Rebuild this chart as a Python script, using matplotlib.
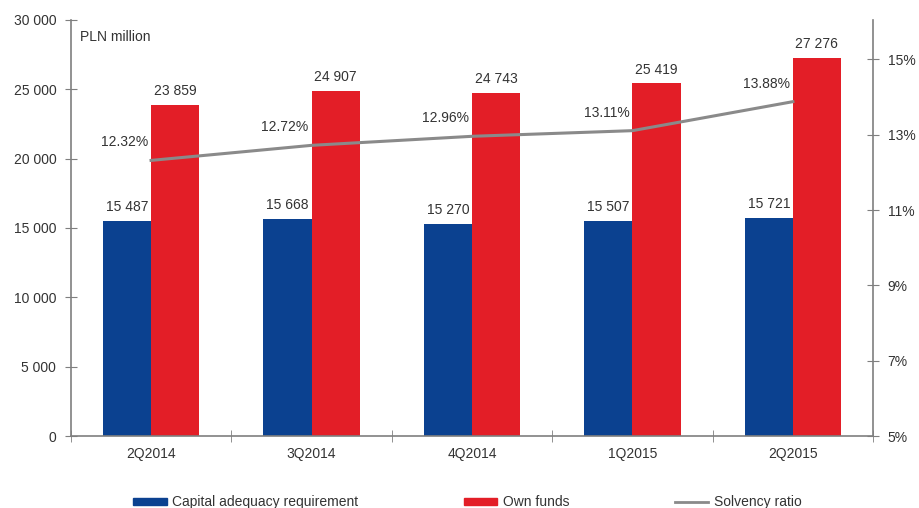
import matplotlib
matplotlib.use("Agg")
import matplotlib.pyplot as plt
import numpy as np
from matplotlib.patches import Patch
from matplotlib.lines import Line2D

quarters = ["2Q2014", "3Q2014", "4Q2014", "1Q2015", "2Q2015"]
capital_requirement = [15487, 15668, 15270, 15507, 15721]
own_funds = [23859, 24907, 24743, 25419, 27276]
solvency_ratio = [12.32, 12.72, 12.96, 13.11, 13.88]

left_ticks = [0, 5000, 10000, 15000, 20000, 25000, 30000]
right_ticks = [5, 7, 9, 11, 13, 15]

BLUE = "#0b4190"
RED = "#e31e27"
GREY = "#8a8a8a"
AXIS = "#7f7f7f"
TEXT = "#333333"

plt.rcParams["font.family"] = ["Liberation Sans", "DejaVu Sans"]

fig = plt.figure(figsize=(9.2, 5.08), dpi=100)
ax = fig.add_axes([0.077, 0.1417, 0.872, 0.819])
ax2 = ax.twinx()

x = np.arange(len(quarters))
w = 0.3
ax.bar(x - w / 2, capital_requirement, w, color=BLUE, zorder=2)
ax.bar(x + w / 2, own_funds, w, color=RED, zorder=2)

def fmt(v):
    return f"{v:,}".replace(",", " ")

for xi, v in zip(x - w / 2, capital_requirement):
    ax.annotate(fmt(v), (xi, v), xytext=(0, 5), textcoords="offset points",
                ha="center", va="bottom", fontsize=10, color=TEXT)
for xi, v in zip(x + w / 2, own_funds):
    ax.annotate(fmt(v), (xi, v), xytext=(0, 5), textcoords="offset points",
                ha="center", va="bottom", fontsize=10, color=TEXT)

ax.set_xlim(-0.5, len(quarters) - 0.5)
ax.set_ylim(0, 30000)
ax.set_yticks(left_ticks)
ax.set_yticklabels([fmt(t) for t in left_ticks])
ax.set_xticks(x)
ax.set_xticklabels(quarters)
ax.set_xticks(np.arange(-0.5, len(quarters)), minor=True)
ax.tick_params(axis="x", which="major", length=0, pad=8, labelsize=10, labelcolor=TEXT)
ax.tick_params(axis="x", which="minor", direction="inout", length=8, color=AXIS)
ax.tick_params(axis="y", direction="inout", length=9, color=AXIS, labelsize=10,
               labelcolor=TEXT, pad=6)

ax2.plot(x, solvency_ratio, color=GREY, lw=2.2, zorder=3)
for xi, v in zip(x, solvency_ratio):
    ax2.annotate(f"{v:.2f}%", (xi, v), xytext=(-2, 8), textcoords="offset points",
                 ha="right", va="bottom", fontsize=10, color=TEXT)
ax2.set_ylim(5, 16.05)
ax2.set_yticks(right_ticks)
ax2.set_yticklabels([f"{t}%" for t in right_ticks])
ax2.tick_params(axis="y", direction="inout", length=9, color=AXIS, labelsize=10,
                labelcolor=TEXT, pad=6)

for a in (ax, ax2):
    a.spines["top"].set_visible(False)
    for s in ("left", "right", "bottom"):
        a.spines[s].set_color(AXIS)
        a.spines[s].set_linewidth(1.2)
ax.set_zorder(ax2.get_zorder() - 1)
ax2.patch.set_visible(False)
ax.spines["right"].set_visible(False)
ax2.spines["left"].set_visible(False)
ax2.spines["bottom"].set_visible(False)

ax.text(0.012, 0.975, "PLN million", transform=ax.transAxes, fontsize=10,
        color=TEXT, ha="left", va="top")

handles = [Patch(color=BLUE), Patch(color=RED), Line2D([], [], color=GREY, lw=2)]
labels = ["Capital adequacy requirement", "Own funds", "Solvency ratio"]
fig.legend(handles, labels, loc="center", bbox_to_anchor=(0.508, 0.011), ncol=3,
           frameon=False, fontsize=10, handlelength=2.4, handleheight=0.5,
           columnspacing=7.6, handletextpad=0.4, labelcolor=TEXT,
           borderpad=0.1)

fig.savefig("out.png", dpi=100)
